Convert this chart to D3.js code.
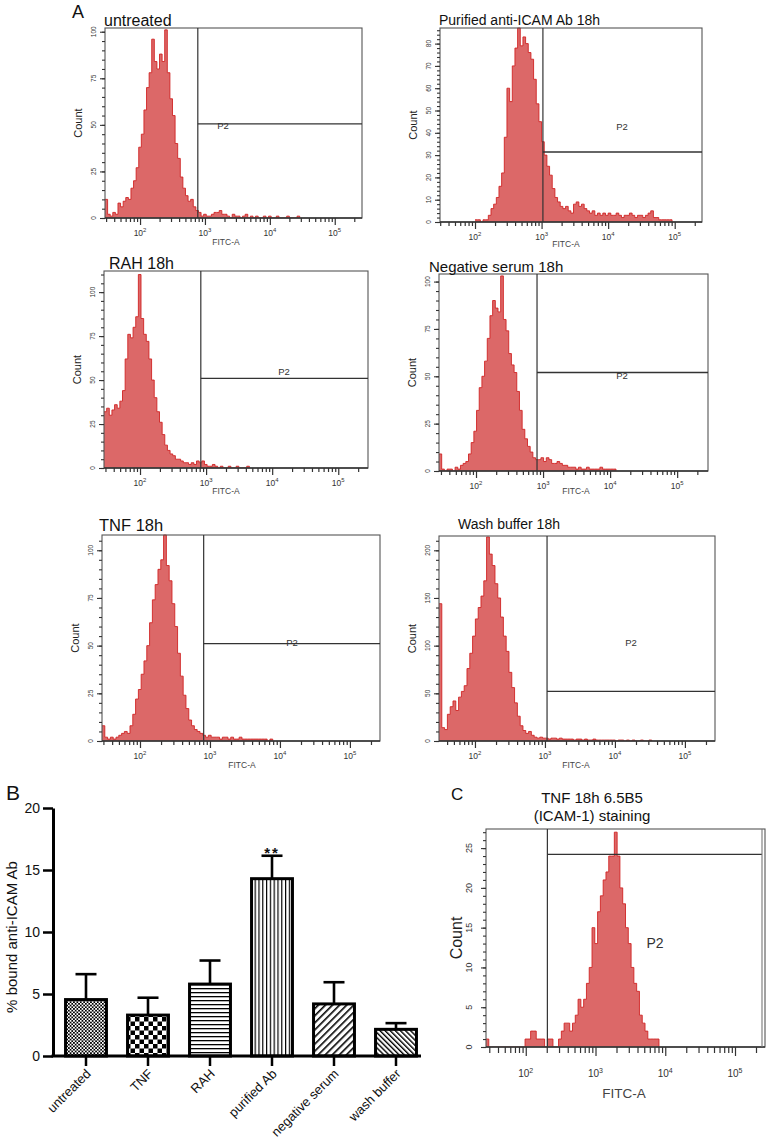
<!DOCTYPE html>
<html><head><meta charset="utf-8">
<script src="https://cdn.jsdelivr.net/npm/d3@7"></script>
<style>
body{margin:0;background:#fff}
svg{display:block}
text{font-family:"Liberation Sans",Arial,Helvetica,sans-serif}
</style>
</head><body>
<svg id="chart" width="768" height="1142"></svg>
<script>
// ---------- DATA ----------
const binWidth = 0.04; // histogram bin width in log10 units

const untreatedStart = 1.46;
const untreatedCounts = [10,2,1,3,2,8,6,9,11,10,16,20,27,38,45,58,70,78,96,84,80,88,84,101,78,64,55,40,32,22,16,12,9,10,6,4,3,1,2,1,1,2,3,3,4,2,2,1,0,2,1,1,0,1,2,0,1,0,1,0,0,1,0,1,0,0,1,0,0,0,1,0,0,0,1];

const purifiedStart = 2.0;
const purifiedCounts = [1,1,0,1,1,3,6,8,11,16,22,38,60,54,70,78,87,79,83,80,76,73,64,53,45,36,30,25,21,15,11,9,7,6,7,5,4,8,9,7,8,6,5,4,5,3,4,3,4,3,4,3,3,4,3,2,3,3,4,3,2,3,3,2,3,4,5,2,2,1,1,1,1,1];

const rahStart = 1.455;
const rahCounts = [32,34,30,33,36,34,38,44,62,76,74,80,86,110,85,76,72,62,50,40,32,26,19,13,10,8,7,5,5,4,3,3,2,3,2,4,3,4,2,1,1,2,1,0,1,0,0,1,0,0,1,0,0,0,1];

const negStart = 1.448;
const negCounts = [9,1,0,1,1,0,2,1,3,4,5,9,15,21,32,44,50,58,70,82,90,86,84,103,80,74,62,56,52,42,32,22,17,13,10,7,6,6,7,5,7,6,4,4,5,4,3,3,2,2,2,1,2,1,1,2,1,1,1,1,2,1,1,1,1,1];

const tnfStart = 1.457;
const tnfCounts = [8,2,1,2,1,2,3,4,5,4,8,14,22,27,35,42,50,62,74,82,90,95,108,92,84,72,60,46,34,24,17,11,8,6,5,4,3,2,3,2,2,2,1,2,2,1,2,1,1,2,1,1,1,1,1,1,1,1,1,0,1];

const washStart = 1.486;
const washCounts = [144,14,12,28,36,42,32,46,52,58,76,92,110,128,140,152,168,214,196,184,165,150,130,110,94,72,56,40,26,16,11,8,10,6,4,3,4,3,3,2,3,3,2,3,2,2,2,2,1,2,2,1,2,1,1,2,1,1,1,1,1,1,1,0,1,1,0,1,0,1,0,0,1,0,0,1];

const icamStart = 1.43;
const icamCounts = [1,0,0,0,0,0,0,0,0,0,0,0,0,0,1,1,2,2,1,1,1,0,1,1,0,0,1,2,3,3,2,3,4,6,5,6,8,10,15,13,17,19,21,22,24,24,27,24,20,18,15,13,10,8,7,4,3,2,1,1,1,1];

const countTicks100 = [0,25,50,75,100];
const countTicks80 = [0,10,20,30,40,50,60,70,80];
const countTicks200 = [0,50,100,150,200];
const countTicks25 = [0,5,10,15,20,25];
const decadeTicks = [2,3,4,5];

const barCategories = ["untreated","TNF","RAH","purified Ab","negative serum","wash buffer"];
const barMeans = [4.55, 3.3, 5.8, 14.3, 4.2, 2.15];
const barErrors = [2.05, 1.4, 1.9, 1.85, 1.75, 0.5];
const barYTicks = [0,5,10,15,20];

// ---------- DRAW ----------
const svg = d3.select("#chart");
const defs = svg.append("defs");

const HIST_FILL = "#dc6868", HIST_STROKE = "#d02424", FRAME = "#555", INK = "#333";

function facsPanel(p, idx){
  const g = svg.append("g");
  const x = d3.scaleLog().domain([Math.pow(10,p.xMin), Math.pow(10,p.xMax)]).range([p.left, p.right]);
  const y = d3.scaleLinear().domain([0, p.yMax]).range([p.bottom, p.top]);

  defs.append("clipPath").attr("id","clip"+idx).append("rect")
    .attr("x",p.left).attr("y",p.top-1).attr("width",p.right-p.left).attr("height",p.bottom-p.top+1);

  const pts = p.counts.map((c,i)=>[Math.pow(10,p.start+i*binWidth), c]);
  pts.push([Math.pow(10,p.start+p.counts.length*binWidth), 0]);
  const area = d3.area().x(d=>x(d[0])).y0(y(0)).y1(d=>y(Math.min(d[1],p.yMax))).curve(d3.curveStepAfter);
  const line = d3.line().x(d=>x(d[0])).y(d=>y(Math.min(d[1],p.yMax))).curve(d3.curveStepAfter);
  const hg = g.append("g").attr("clip-path","url(#clip"+idx+")");
  hg.append("path").datum(pts).attr("d",area).attr("fill",HIST_FILL);
  hg.append("path").datum(pts).attr("d",line).attr("fill","none").attr("stroke",HIST_STROKE).attr("stroke-width",0.9);

  // frame
  g.append("rect").attr("x",p.left).attr("y",p.top).attr("width",p.right-p.left).attr("height",p.bottom-p.top)
    .attr("fill","none").attr("stroke",FRAME).attr("stroke-width",1.1);
  g.append("line").attr("x1",p.left).attr("x2",p.right).attr("y1",p.bottom).attr("y2",p.bottom)
    .attr("stroke",INK).attr("stroke-width",1.4);

  // gate
  const gx = x(Math.pow(10,p.gate));
  const gr = p.gateRight || p.right;
  g.append("line").attr("x1",gx).attr("x2",gx).attr("y1",p.top).attr("y2",p.bottom).attr("stroke",INK).attr("stroke-width",1.2);
  g.append("line").attr("x1",gx).attr("x2",gr).attr("y1",y(p.gateCount)).attr("y2",y(p.gateCount)).attr("stroke",INK).attr("stroke-width",1.3);
  if(p.gateRight){
    g.append("line").attr("x1",gr).attr("x2",gr).attr("y1",p.top).attr("y2",p.bottom).attr("stroke","#777").attr("stroke-width",1.1);
  }

  // x ticks
  const d0 = x.domain();
  const majors = decadeTicks.map(e=>Math.pow(10,e)).filter(v=>v>=d0[0]&&v<=d0[1]);
  const minors = [];
  [1,2,3,4,5].forEach(e=>{ for(let m=2;m<=9;m++){ const v=m*Math.pow(10,e); if(v>=d0[0]&&v<=d0[1]) minors.push(v);} });
  const xMinor = g.append("g").attr("transform",`translate(0,${p.bottom})`)
    .call(d3.axisBottom(x).tickValues(minors).tickSize(p.minorLen||4).tickFormat(""));
  const xMajor = g.append("g").attr("transform",`translate(0,${p.bottom})`)
    .call(d3.axisBottom(x).tickValues(majors).tickSize(p.majorLen||7).tickFormat(""));
  [xMinor,xMajor].forEach(a=>{ a.select(".domain").remove(); a.selectAll("line").attr("stroke",INK).attr("stroke-width",1.2); });

  majors.forEach(v=>{
    const t = g.append("text").attr("x",x(v)).attr("y",p.bottom+p.xLabOff).attr("text-anchor","middle")
      .attr("font-size",p.xLabSize).attr("fill",INK);
    t.append("tspan").text("10");
    t.append("tspan").attr("dy",-p.xLabSize*0.45).attr("font-size",p.xLabSize*0.7).text(Math.round(Math.log10(v)));
  });

  // y ticks
  const yMin = [];
  for(let v=0; v<=p.yMax; v+=p.yMinorStep) yMin.push(v);
  const yMinor = g.append("g").attr("transform",`translate(${p.left},0)`)
    .call(d3.axisLeft(y).tickValues(yMin).tickSize(3).tickFormat(""));
  const yMajor = g.append("g").attr("transform",`translate(${p.left},0)`)
    .call(d3.axisLeft(y).tickValues(p.yTicks).tickSize(5).tickFormat(""));
  [yMinor,yMajor].forEach(a=>{ a.select(".domain").remove(); a.selectAll("line").attr("stroke",INK).attr("stroke-width",1.1); });
  p.yTicks.forEach(v=>{
    const tx = p.left - p.yLabOff, ty = y(v);
    g.append("text").attr("x",tx).attr("y",ty).attr("transform",`rotate(-90,${tx},${ty})`)
      .attr("text-anchor","middle").attr("font-size",p.yLabSize).attr("fill",INK).text(v);
  });

  // axis titles
  const cx = p.left - p.countOff, cy = (p.top+p.bottom)/2;
  g.append("text").attr("x",cx).attr("y",cy).attr("transform",`rotate(-90,${cx},${cy})`)
    .attr("text-anchor","middle").attr("font-size",p.countSize).attr("fill","#222").text("Count");
  g.append("text").attr("x",p.fitc[0]).attr("y",p.fitc[1]).attr("text-anchor","middle")
    .attr("font-size",p.fitcSize).attr("fill","#444").text("FITC-A");
  g.append("text").attr("x",p.p2[0]).attr("y",p.p2[1]).attr("text-anchor","middle")
    .attr("font-size",p.p2Size).attr("fill","#333").text("P2");

  // title
  if(p.title){
    g.append("text").attr("x",p.titleX).attr("y",p.titleY).attr("font-size",p.titleSize).attr("fill","#111").text(p.title);
  }
}

const smallPanel = {xLabOff:18, xLabSize:8.5, yLabOff:9, yLabSize:6.5, countOff:23, countSize:11, fitcSize:8.5, p2Size:9.5};

const panels = [
  Object.assign({}, smallPanel, {title:"untreated", titleX:104, titleY:26, titleSize:16,
    left:105, right:362, top:28, bottom:218, xMin:1.46, xMax:5.42, yMax:102, yTicks:countTicks100, yMinorStep:5,
    gate:2.89, gateCount:50.5, p2:[223,129], fitc:[226,245], start:untreatedStart, counts:untreatedCounts}),
  Object.assign({}, smallPanel, {title:"Purified anti-ICAM Ab 18h", titleX:439, titleY:25, titleSize:14,
    left:440, right:702, top:28, bottom:222, xMin:1.474, xMax:5.41, yMax:87, yTicks:countTicks80, yMinorStep:2,
    gate:3.02, gateCount:31.4, p2:[622,130], fitc:[566,247], start:purifiedStart, counts:purifiedCounts}),
  Object.assign({}, smallPanel, {title:"RAH 18h", titleX:109, titleY:269, titleSize:16,
    left:104, right:368, top:271, bottom:468, xMin:1.455, xMax:5.45, yMax:112, yTicks:countTicks100, yMinorStep:5,
    gate:2.92, gateCount:51, p2:[284,375], fitc:[226,494], start:rahStart, counts:rahCounts}),
  Object.assign({}, smallPanel, {title:"Negative serum 18h", titleX:429, titleY:272, titleSize:15,
    left:439, right:708, top:274, bottom:471, xMin:1.448, xMax:5.46, yMax:104, yTicks:countTicks100, yMinorStep:5,
    gate:2.91, gateCount:52, p2:[622,379], fitc:[576,494], start:negStart, counts:negCounts}),
  Object.assign({}, smallPanel, {title:"TNF 18h", titleX:99, titleY:531, titleSize:16.5,
    left:102, right:380, top:535, bottom:741, xMin:1.457, xMax:5.43, yMax:108, yTicks:countTicks100, yMinorStep:5,
    gate:2.91, gateCount:51, p2:[292,646], fitc:[242,768], start:tnfStart, counts:tnfCounts}),
  Object.assign({}, smallPanel, {title:"Wash buffer 18h", titleX:458, titleY:529, titleSize:14,
    left:439, right:715, top:536, bottom:741, xMin:1.486, xMax:5.43, yMax:215, yTicks:countTicks200, yMinorStep:10,
    gate:3.03, gateCount:52, p2:[631,646], fitc:[576,768], start:washStart, counts:washCounts}),
  {title:null, left:486, right:765, top:829, bottom:1047, xMin:1.43, xMax:5.43, yMax:27.4, yTicks:countTicks25, yMinorStep:1,
    gate:2.31, gateCount:24.2, gateRight:762, p2:[655,948], p2Size:14, fitc:[624,1098], fitcSize:13.5,
    xLabOff:30, xLabSize:10, majorLen:9, minorLen:6, yLabOff:14, yLabSize:9, countOff:24, countSize:16,
    start:icamStart, counts:icamCounts}
];
panels.forEach((p,i)=>facsPanel(p,i));

// panel C title
svg.append("text").attr("x",592).attr("y",803).attr("text-anchor","middle").attr("font-size",15).attr("fill","#111").text("TNF 18h 6.5B5");
svg.append("text").attr("x",592).attr("y",821).attr("text-anchor","middle").attr("font-size",15).attr("fill","#111").text("(ICAM-1) staining");

// panel letters
svg.append("text").attr("x",72).attr("y",18).attr("font-size",18).attr("fill","#111").text("A");
svg.append("text").attr("x",6).attr("y",800).attr("font-size",21).attr("fill","#111").text("B");
svg.append("text").attr("x",451).attr("y",800).attr("font-size",17).attr("fill","#111").text("C");

// ---------- PANEL B: bar chart ----------
const pat = (id,w,h,rot)=>{
  const p = defs.append("pattern").attr("id",id).attr("patternUnits","userSpaceOnUse").attr("width",w).attr("height",h);
  if(rot) p.attr("patternTransform",`rotate(${rot})`);
  p.append("rect").attr("width",w).attr("height",h).attr("fill","#fff");
  return p;
};
let pp;
pp = pat("bp0",3.4,3.4);
pp.append("rect").attr("width",1.7).attr("height",1.7).attr("fill","#000");
pp.append("rect").attr("x",1.7).attr("y",1.7).attr("width",1.7).attr("height",1.7).attr("fill","#000");
pp = pat("bp1",9,9);
pp.append("rect").attr("width",4.5).attr("height",4.5).attr("fill","#000");
pp.append("rect").attr("x",4.5).attr("y",4.5).attr("width",4.5).attr("height",4.5).attr("fill","#000");
pp = pat("bp2",4,4);
pp.append("rect").attr("width",4).attr("height",1.3).attr("fill","#000");
pp = pat("bp3",3.8,4);
pp.append("rect").attr("width",1.2).attr("height",4).attr("fill","#000");
pp = pat("bp4",5,5,45);
pp.append("rect").attr("width",1.6).attr("height",5).attr("fill","#000");
pp = pat("bp5",3.6,3.6,-45);
pp.append("rect").attr("width",1.4).attr("height",3.6).attr("fill","#000");

const bx = d3.scaleBand().domain(barCategories).range([55,427]).paddingInner(0.34).paddingOuter(0.17);
const by = d3.scaleLinear().domain([0,20]).range([1056,808]);
const bg = svg.append("g");

// error bars (behind bars)
barCategories.forEach((c,i)=>{
  const cx = bx(c)+bx.bandwidth()/2;
  bg.append("line").attr("x1",cx).attr("x2",cx).attr("y1",by(barMeans[i])).attr("y2",by(barMeans[i]+barErrors[i]))
    .attr("stroke","#000").attr("stroke-width",2.6);
  bg.append("line").attr("x1",cx-10.5).attr("x2",cx+10.5).attr("y1",by(barMeans[i]+barErrors[i])).attr("y2",by(barMeans[i]+barErrors[i]))
    .attr("stroke","#000").attr("stroke-width",2.6);
});
bg.selectAll("rect.bar").data(barCategories).enter().append("rect").attr("class","bar")
  .attr("x",d=>bx(d)).attr("width",bx.bandwidth())
  .attr("y",(d,i)=>by(barMeans[i])).attr("height",(d,i)=>by(0)-by(barMeans[i]))
  .attr("fill",(d,i)=>`url(#bp${i})`).attr("stroke","#000").attr("stroke-width",3);

// axes
const yAx = bg.append("g").attr("transform","translate(53,0)")
  .call(d3.axisLeft(by).tickValues(barYTicks).tickSize(10).tickSizeOuter(0).tickPadding(3));
yAx.select(".domain").attr("stroke","#000").attr("stroke-width",3);
yAx.selectAll(".tick line").attr("stroke","#000").attr("stroke-width",2.5);
yAx.selectAll(".tick text").attr("font-size",14).attr("fill","#111").attr("font-family","Liberation Sans, Arial, sans-serif");

bg.append("line").attr("x1",51.5).attr("x2",421).attr("y1",1056).attr("y2",1056).attr("stroke","#000").attr("stroke-width",3);
barCategories.forEach(c=>{
  const cx = bx(c)+bx.bandwidth()/2;
  bg.append("line").attr("x1",cx).attr("x2",cx).attr("y1",1056).attr("y2",1066).attr("stroke","#000").attr("stroke-width",2.5);
  bg.append("text").attr("transform",`translate(${cx-1},1068) rotate(-45)`).attr("dy","0.71em")
    .attr("text-anchor","end").attr("font-size",13).attr("fill","#111").text(c);
});
svg.append("text").attr("x",17).attr("y",937).attr("transform","rotate(-90,17,937)").attr("text-anchor","middle")
  .attr("font-size",15).attr("fill","#111").text("% bound anti-ICAM Ab");
svg.append("text").attr("x",bx("purified Ab")+bx.bandwidth()/2).attr("y",858).attr("text-anchor","middle")
  .attr("font-size",15).attr("font-weight","bold").attr("letter-spacing","2").attr("fill","#111").text("**");
</script>
</body></html>
